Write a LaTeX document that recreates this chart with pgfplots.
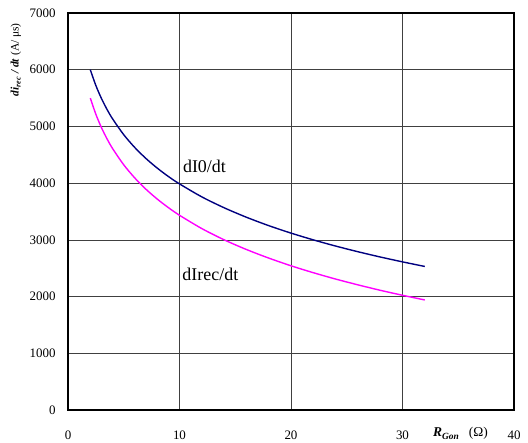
\documentclass[border=0pt]{standalone}
\usepackage{pgfplots}
\pgfplotsset{compat=1.18}
\usepackage{fontspec}
\setmainfont{Liberation Serif}
\definecolor{navyc}{RGB}{0,0,128}
\definecolor{magc}{RGB}{255,0,255}
\begin{document}
\begin{tikzpicture}
\path (-68bp,-33bp) rectangle (460bp,410bp);
\begin{axis}[
  at={(0,0)}, anchor=south west,
  scale only axis, width=446bp, height=397bp,
  xmin=0, xmax=40, ymin=0, ymax=7000,
  xtick={0,10,20,30,40}, ytick={0,1000,...,7000},
  grid=major,
  grid style={black!75, line width=0.6pt},
  axis line style={black, line width=1.3pt},
  major tick length=0pt,
  /pgf/number format/assume math mode=true,
  /pgf/number format/1000 sep={},
  tick label style={font=\fontsize{13}{15}\selectfont},
  xticklabel style={yshift=-17bp},
  yticklabel style={xshift=-9bp},
  clip=false,
]
\addplot[navyc, line width=1.4pt, smooth] coordinates {
(2,6000) (2.5,5721) (3,5493) (3.5,5300) (4,5133) (5,4854) (6,4626) (7,4433) (8,4266) (9,4118) (10,3987)
(12,3758) (14,3566) (16,3399) (18,3251) (20,3119) (22,3000) (24,2891) (26,2791) (28,2698) (30,2612) (32,2531)};
\addplot[magc, line width=1.4pt, smooth] coordinates {
(2,5500) (2.5,5214) (3,4979) (3.5,4781) (4,4610) (5,4323) (6,4089) (7,3891) (8,3720) (9,3569) (10,3434)
(12,3199) (14,3001) (16,2830) (18,2679) (20,2543) (22,2421) (24,2309) (26,2207) (28,2111) (30,2023) (32,1940)};
\node[anchor=base west, font=\fontsize{18}{20}\selectfont, inner sep=0pt] at (axis cs:10.3,4180) {dI0/dt};
\node[anchor=base west, font=\fontsize{18}{20}\selectfont, inner sep=0pt] at (axis cs:10.25,2290) {dIrec/dt};
\node[font=\fontsize{13.5}{15}\selectfont, anchor=base, inner sep=0pt] at ([yshift=-27bp]axis cs:35.2,0) {\textbf{\textit{R\textsubscript{Gon}}}\hspace{0.7em}(Ω)};
\node[rotate=90, anchor=east, inner sep=0pt, font=\fontsize{11.5}{13}\selectfont] at ([xshift=-52bp,yshift=-10bp]rel axis cs:0,1) {\textbf{\textit{di\textsubscript{rec} / dt}} (A/ μs)};
\end{axis}
\end{tikzpicture}
\end{document}
